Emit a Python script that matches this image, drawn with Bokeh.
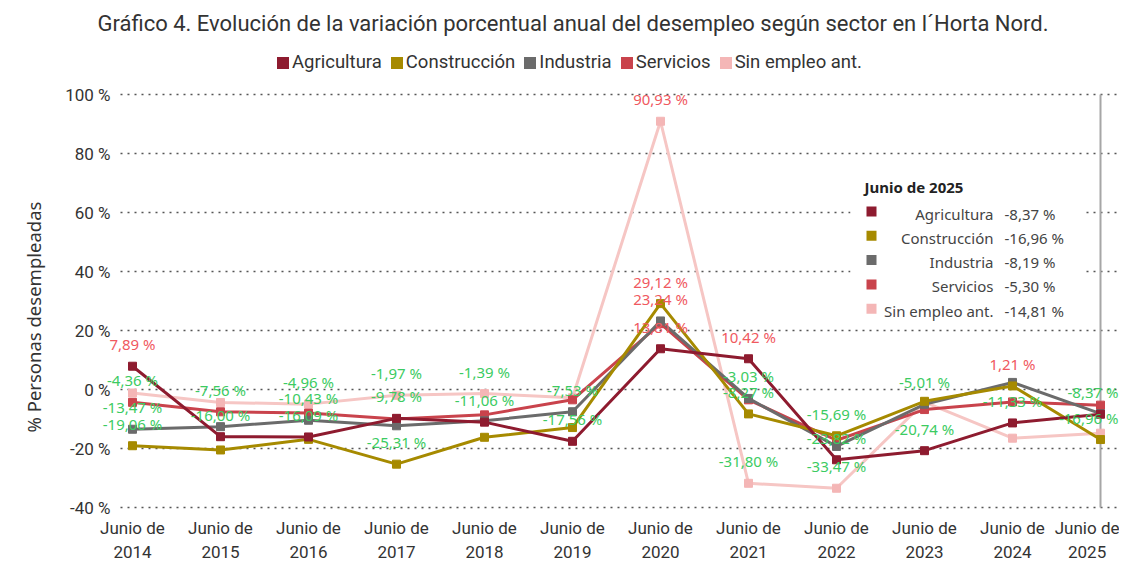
from bokeh.plotting import figure
from bokeh.models import (Range1d, FixedTicker, Legend, LegendItem, BoxAnnotation, Label, Title)
from bokeh.embed import file_html
from bokeh.resources import INLINE

# ---------------- data ----------------
years = [2014, 2015, 2016, 2017, 2018, 2019, 2020, 2021, 2022, 2023, 2024, 2025]
category_labels = [f"Junio de\n{y}" for y in years]
series_names = ["Agricultura", "Construcción", "Industria", "Servicios", "Sin empleo ant."]
agricultura = [7.89, -16.00, -16.09, -9.78, -11.06, -17.56, 13.81, 10.42, -23.82, -20.74, -11.33, -8.37]
construccion = [-19.06, -20.5, -16.9, -25.31, -16.2, -12.9, 29.12, -8.27, -15.69, -4.0, 1.21, -16.96]
industria = [-13.47, -12.6, -10.43, -12.3, -10.6, -7.53, 23.24, -3.03, -19.3, -5.01, 2.4, -8.19]
servicios = [-4.36, -7.56, -8.0, -10.0, -8.6, -3.5, 22.3, -3.5, -17.2, -6.8, -4.2, -5.30]
sin_empleo = [-1.2, -4.4, -4.96, -1.97, -1.39, -2.8, 90.93, -31.80, -33.47, -4.3, -16.5, -14.81]
y_ticks = [-40, -20, 0, 20, 40, 60, 80, 100]
# data labels shown: (year index, series index)
shown_labels = [
    (0, 0), (0, 3), (0, 2), (0, 1),
    (1, 3), (1, 0),
    (2, 4), (2, 2), (2, 0),
    (3, 4), (3, 0), (3, 1),
    (4, 4), (4, 0),
    (5, 2), (5, 0),
    (6, 4), (6, 1), (6, 2), (6, 0),
    (7, 0), (7, 2), (7, 1), (7, 4),
    (8, 1), (8, 0), (8, 4),
    (9, 2), (9, 0),
    (10, 1), (10, 0),
    (11, 0), (11, 1),
]

series_values = [agricultura, construccion, industria, servicios, sin_empleo]
colors = ["#8E1B2F", "#A68A00", "#6B6B6B", "#C9434C", "#F4B6B6"]
line_colors = ["#8E1B2F", "#A68A00", "#6B6B6B", "#C9434C", "#F6C6C4"]

def fmt(v):
    return f"{v:.2f}".replace(".", ",") + " %"

xs = list(range(len(years)))

TXT = "#333333"
DIN = "Roboto"
SANS = "Noto Sans"

# pixel mapping helpers (layout only)
FRAME_L, FRAME_R, FRAME_T, FRAME_B = 88, 1119, 40, 509
GRID_L = 120
PX0, PXS = 132.0, 88.0                 # x pixel of first category, px per category
PY100 = 94.0
PYM40 = FRAME_B - 2.0
PYS = (PYM40 - PY100) / 140.0          # px per unit
def dx(px):
    return (px - PX0) / PXS
def dy(py):
    return 100 - (py - PY100) / PYS

p = figure(width=1119, height=565, output_backend="svg", toolbar_location=None,
           x_range=Range1d(dx(FRAME_L), dx(FRAME_R)), y_range=Range1d(dy(FRAME_B), dy(FRAME_T)),
           min_border_left=FRAME_L, min_border_right=0, min_border_top=FRAME_T,
           min_border_bottom=565 - FRAME_B)
p.outline_line_color = None
p.background_fill_color = "white"

p.title.text = "Gráfico 4. Evolución de la variación porcentual anual del desempleo según sector en l´Horta Nord."
p.title.align = "left"
p.title.offset = 97 - FRAME_L
p.title.text_font = DIN
p.title.text_font_size = "22px"
p.title.text_font_style = "normal"
p.title.text_color = TXT
p.title.standoff = 10

# axes
p.xaxis.ticker = FixedTicker(ticks=xs)
p.xaxis.major_label_overrides = {i: lab for i, lab in zip(xs, category_labels)}
p.xaxis.axis_line_color = None
p.xaxis.major_tick_line_color = None
p.xaxis.minor_tick_line_color = None
p.xaxis.major_label_standoff = 2
p.xaxis.major_label_text_font = DIN
p.xaxis.major_label_text_font_size = "17px"
p.xaxis.major_label_text_color = TXT

p.yaxis.ticker = FixedTicker(ticks=y_ticks)
p.yaxis.major_label_overrides = {t: f"{t} %" for t in y_ticks}
p.yaxis.axis_line_color = None
p.yaxis.major_tick_line_color = None
p.yaxis.minor_tick_line_color = None
p.yaxis.major_tick_out = 0
p.yaxis.major_tick_in = 0
p.yaxis.major_label_standoff = FRAME_L - 110
p.yaxis.major_label_text_font = DIN
p.yaxis.major_label_text_font_size = "17px"
p.yaxis.major_label_text_color = TXT

# y axis title as a side title, shifted to sit centred on the gridded area
p.add_layout(Title(text="% Personas desempleadas", align="left", offset=FRAME_B - 432,
                   standoff=34, text_font=SANS, text_font_size="18.5px",
                   text_font_style="normal", text_color=TXT), "left")

# dotted horizontal grid (starting right of the tick labels)
p.xgrid.grid_line_color = None
p.ygrid.grid_line_color = None
n_t = len(y_ticks)
p.segment(x0=[dx(GRID_L)] * n_t, y0=y_ticks, x1=[dx(FRAME_R)] * n_t, y1=y_ticks,
          line_color="#555555", line_width=1.5, line_dash="2 5")

# hover indicator line at last category
p.segment(x0=[xs[-1]], y0=[y_ticks[0]], x1=[xs[-1]], y1=[y_ticks[-1]],
          line_color="#A6A6A6", line_width=2)

# series (draw the light one first)
order = [4, 3, 2, 1, 0]
for i in order:
    p.line(xs, series_values[i], line_color=line_colors[i], line_width=3)
    p.scatter(xs, series_values[i], marker="square", size=8, fill_color=colors[i], line_color=colors[i])

# legend (square swatches from zero-area quads on the series data)
items = []
for i, name in enumerate(series_names):
    r = p.quad(left=xs, right=xs, top=series_values[i], bottom=series_values[i],
               fill_color=colors[i], line_color=None)
    items.append(LegendItem(label=name, renderers=[r]))
legend = Legend(items=items, orientation="horizontal", location=(275 - FRAME_L, FRAME_B - 73),
                glyph_width=15, glyph_height=15, label_standoff=2, spacing=7, padding=0,
                label_text_font=DIN, label_text_font_size="18.5px", label_text_color=TXT,
                background_fill_alpha=0, border_line_color=None, label_height=15)
p.add_layout(legend)

# data labels (annotations)
for (yi, si) in shown_labels:
    v = series_values[si][yi]
    last = (yi == len(xs) - 1)
    p.add_layout(Label(x=xs[yi], y=v, text=fmt(v), y_offset=22, x_offset=18 if last else 0,
                       text_align="right" if last else "center", text_baseline="middle",
                       text_color="#F0595F" if v >= 0 else "#3CCB62",
                       text_font=SANS, text_font_size="15px"))

# tooltip-like summary box for last category
p.add_layout(BoxAnnotation(left=dx(850), right=dx(1082), bottom=dy(325), top=dy(170),
                           fill_color="white", fill_alpha=1, line_color=None))
last_vals = [s[-1] for s in series_values]
row_py = [213 + k * 24.3 for k in range(len(series_names))]
p.add_layout(Label(x=dx(864), y=dy(186), text=f"Junio de {years[-1]}", text_font=SANS,
                   text_font_size="15px", text_font_style="bold", text_color="#222222",
                   text_baseline="middle", text_align="left"))
for k, name in enumerate(series_names):
    py = row_py[k]
    p.add_layout(BoxAnnotation(left=dx(866), right=dx(876), top=dy(py - 7), bottom=dy(py + 3),
                               fill_color=colors[k], fill_alpha=1, line_color=None))
    p.add_layout(Label(x=dx(993), y=dy(py), text=name, text_font=SANS, text_font_size="15px",
                       text_color="#444444", text_baseline="middle", text_align="right"))
    p.add_layout(Label(x=dx(1004), y=dy(py), text=fmt(last_vals[k]), text_font=SANS,
                       text_font_size="15px", text_color="#444444", text_baseline="middle",
                       text_align="left"))

open("out.html", "w").write(file_html(p, INLINE))
